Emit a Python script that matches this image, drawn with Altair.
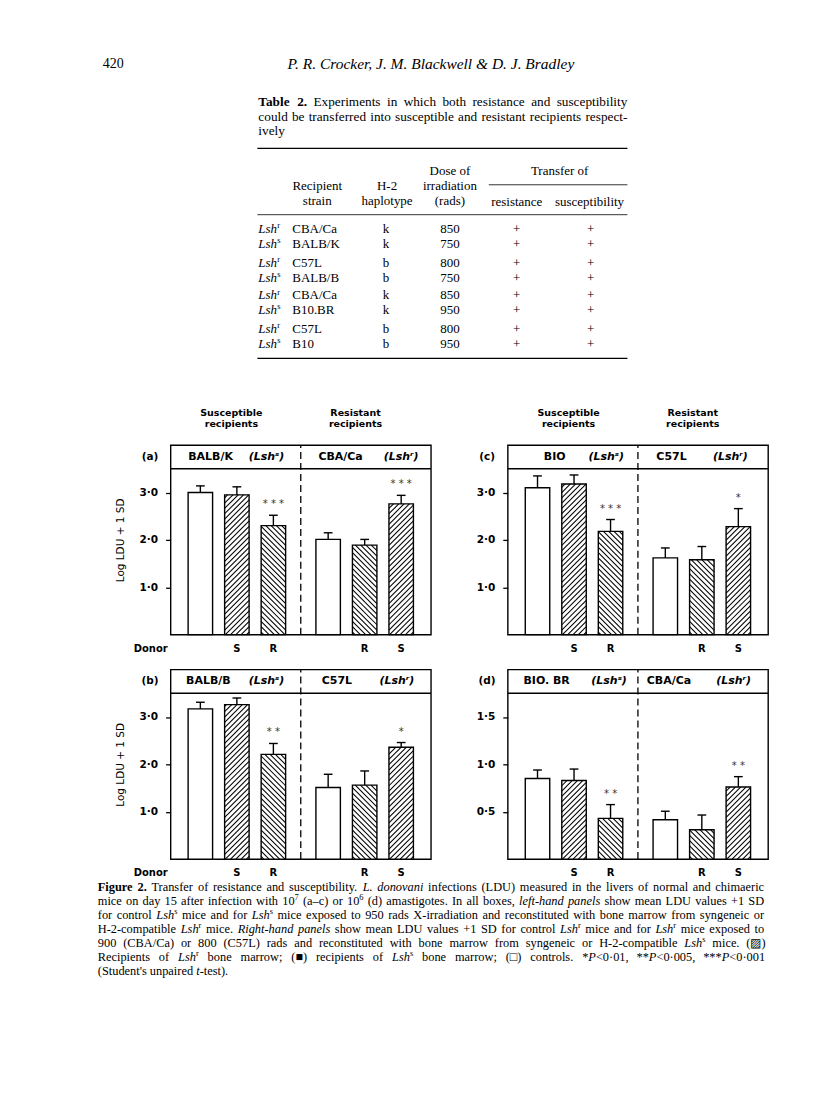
import altair as alt
import numpy as np
import pandas as pd

SERIF = "Liberation Serif"
SANS = "DejaVu Sans"

# ---------------- data ----------------
POS = [1, 2, 3, 4.5, 5.5, 6.5]
KIND = ["C", "S", "R", "C", "R", "S"]          # donor marrow (C = control)
DONOR = ["", "S", "R", "", "R", "S"]

a_mean = [3.00, 2.95, 2.30, 2.01, 1.89, 2.76]
a_sd = [0.14, 0.17, 0.22, 0.14, 0.12, 0.18]
a_sig = ["", "", "* * *", "", "", "* * *"]

b_mean = [3.17, 3.26, 2.21, 1.51, 1.56, 2.36]
b_sd = [0.14, 0.14, 0.23, 0.28, 0.30, 0.10]
b_sig = ["", "", "* *", "", "", "*"]

c_mean = [3.10, 3.18, 2.18, 1.62, 1.58, 2.28]
c_sd = [0.25, 0.19, 0.25, 0.21, 0.28, 0.38]
c_sig = ["", "", "* * *", "", "", "*"]

d_mean = [0.85, 0.83, 0.43, 0.415, 0.31, 0.76]
d_sd = [0.09, 0.12, 0.145, 0.09, 0.155, 0.11]
d_sig = ["", "", "* *", "", "", "* *"]

a_names = ["BALB/K", "CBA/Ca"]
b_names = ["BALB/B", "C57L"]
c_names = ["BIO", "C57L"]
d_names = ["BIO. BR", "CBA/Ca"]
LSH_LABELS = ["(Lshˢ)", "(Lshʳ)"]

TICKS_ABC = [1.0, 2.0, 3.0]
TICKS_D = [0.5, 1.0, 1.5]

tbl_lsh = ["r", "s", "r", "s", "r", "s", "r", "s"]
tbl_strain = ["CBA/Ca", "BALB/K", "C57L", "BALB/B", "CBA/Ca", "B10.BR", "C57L", "B10"]
tbl_h2 = ["k", "k", "b", "b", "k", "k", "b", "b"]
tbl_dose = ["850", "750", "800", "750", "850", "950", "800", "950"]
tbl_res = ["+"] * 8
tbl_sus = ["+"] * 8

# markup: ~ toggles italic, # toggles bold, ^x superscript character
table_title = [
    "#Table# #2.# Experiments in which both resistance and susceptibility",
    "could be transferred into susceptible and resistant recipients respect-",
    "ively",
]
caption_lines = [
    "#Figure# #2.# Transfer of resistance and susceptibility. ~L.~ ~donovani~ infections (LDU) measured in the livers of normal and chimaeric",
    "mice on day 15 after infection with 10^7 (a–c) or 10^6 (d) amastigotes. In all boxes, ~left-hand~ ~panels~ show mean LDU values +1 SD",
    "for control ~Lsh~^s mice and for ~Lsh~^s mice exposed to 950 rads X-irradiation and reconstituted with bone marrow from syngeneic or",
    "H-2-compatible ~Lsh~^r mice. ~Right-hand~ ~panels~ show mean LDU values +1 SD for control ~Lsh~^r mice and for ~Lsh~^r mice exposed to",
    "900 (CBA/Ca) or 800 (C57L) rads and reconstituted with bone marrow from syngeneic or H-2-compatible ~Lsh~^s mice. (▨)",
    "Recipients of ~Lsh~^r bone marrow; (■) recipients of ~Lsh~^s bone marrow; (□) controls. *~P~<0·01, **~P~<0·005, ***~P~<0·001",
    "(Student's unpaired ~t~-test).",
]

# ---------------- layout constants ----------------
W, H = 261, 190
XD = [0.185, 7.315]
BW = 0.67
CAP = 0.12
HDR_H = 397
CAP_TOP = 881
CAP_H = 100

# Times-compatible advance widths (per 1000 em) for laying out justified text
TNR = {' ': 250, "'": 180, '(': 333, ')': 333, '*': 500, '+': 564, ',': 250, '-': 333, '.': 250,
       '/': 278, ':': 278, ';': 278, '<': 564, '·': 250, '–': 500, '■': 604, '□': 604, '▨': 770,
       'A': 722, 'B': 667, 'C': 667, 'D': 722, 'E': 611, 'F': 556, 'G': 722, 'H': 722, 'I': 333,
       'J': 389, 'K': 722, 'L': 611, 'M': 889, 'N': 722, 'O': 722, 'P': 556, 'Q': 722, 'R': 667,
       'S': 556, 'T': 611, 'U': 722, 'V': 722, 'W': 944, 'X': 722, 'Y': 722, 'Z': 611,
       'a': 444, 'b': 500, 'c': 444, 'd': 500, 'e': 444, 'f': 333, 'g': 500, 'h': 500, 'i': 278,
       'j': 278, 'k': 500, 'l': 278, 'm': 778, 'n': 500, 'o': 500, 'p': 500, 'q': 500, 'r': 333,
       's': 389, 't': 278, 'u': 500, 'v': 500, 'w': 722, 'x': 500, 'y': 500, 'z': 444}
TNR_I = {'f': 278, 'r': 389, 'v': 444, 'w': 667, 'm': 722, 'k': 444, 'L': 556, 'P': 611, 'R': 611,
         'a': 500, 'y': 444, 'A': 611}
TNR_B = {'b': 556, 'd': 556, 'h': 556, 'n': 556, 'u': 556, 'm': 833, 'r': 444, 't': 333, 'F': 611,
         'T': 667, 'l': 278, 'a': 500, 'g': 500, 'e': 444, 'i': 278}


def seg_width(text, style, size):
    tot = 0
    for ch in text:
        w = TNR.get(ch, 500)
        if style == "i":
            w = TNR_I.get(ch, w)
        elif style == "b":
            w = TNR_B.get(ch, w)
        tot += w
    fs = size * 0.68 if style == "sup" else size
    return tot * fs / 1000


def parse_word(word):
    segs, buf = [], ""
    ital = bold = False
    i = 0

    def style():
        return "b" if bold else ("i" if ital else "n")

    while i < len(word):
        ch = word[i]
        if ch in "~#^":
            if buf:
                segs.append((buf, style()))
                buf = ""
            if ch == "~":
                ital = not ital
            elif ch == "#":
                bold = not bold
            else:
                segs.append((word[i + 1], "sup"))
                i += 1
        else:
            buf += ch
        i += 1
    if buf:
        segs.append((buf, style()))
    return segs


def base(df, xs, ys, yax=None):
    return alt.Chart(df).encode(
        x=alt.X("x:Q", scale=xs, axis=None),
        y=alt.Y("y:Q", scale=ys, axis=yax),
    )


def text_block(lines, x0, x1, y0, lh, size, xs, ys):
    rows = {"n": [], "i": [], "b": [], "sup": []}
    for li, line in enumerate(lines):
        words = [parse_word(w) for w in line.split(" ")]
        ww = [sum(seg_width(t, s, size) for t, s in w) for w in words]
        y = y0 + li * lh
        if li < len(lines) - 1 and len(words) > 1:
            gap = (x1 - x0 - sum(ww)) / (len(words) - 1)
        else:
            gap = seg_width(" ", "n", size)
        x = x0
        for w, wd in zip(words, ww):
            cx = x
            for t, s in w:
                rows[s].append((cx, y, t))
                cx += seg_width(t, s, size)
            x += wd + gap
    out = []
    for s, r in rows.items():
        if not r:
            continue
        kw = dict(font=SERIF, fontSize=size, align="left", baseline="alphabetic", color="black")
        if s == "i":
            kw["fontStyle"] = "italic"
        if s == "b":
            kw["fontWeight"] = "bold"
        if s == "sup":
            kw["fontSize"] = size * 0.68
            kw["dy"] = -size * 0.38
        df = pd.DataFrame(r, columns=["x", "y", "t"])
        out.append(base(df, xs, ys).mark_text(**kw).encode(text="t:N"))
    return out


def hatch(means, ymax):
    pxx = W / (XD[1] - XD[0])
    pxy = H / ymax
    rows = []
    s = 5.3
    for p, v, k in zip(POS, means, KIND):
        if k == "C":
            continue
        x0 = p - BW / 2
        w = BW * pxx
        h = v * pxy
        c = -w + s / 2
        while c < h:
            t1 = max(0.0, -c)
            t2 = min(w, h - c)
            if t2 - t1 > 0.4:
                if k == "S":
                    xa, xb = t1, t2
                else:
                    xa, xb = w - t1, w - t2
                rows.append(dict(x=x0 + xa / pxx, y=(t1 + c) / pxy,
                                 x2=x0 + xb / pxx, y2=(t2 + c) / pxy))
            c += s
    return pd.DataFrame(rows)


def panel(tag, means, sds, sigs, names, name_x, lsh_x, ymax, ticks, left, top):
    hdr = ymax * 0.875
    hmid = (ymax + hdr) / 2
    xs = alt.Scale(domain=XD, nice=False, zero=False)
    ys = alt.Scale(domain=[0, ymax], nice=False, zero=False)
    yax = alt.Axis(
        values=ticks,
        labelExpr="replace(format(datum.value, '.1f'), '.', '·')",
        domain=False, grid=False, ticks=True, tickSize=5, tickWidth=1.3,
        tickColor="black", labelColor="black", labelFont=SANS, labelFontSize=10.5,
        labelFontWeight="bold", labelPadding=8,
        title="Log LDU + 1 SD" if left else None,
        titleFont=SANS, titleFontSize=10.5, titleFontWeight="normal",
        titleColor="black", titlePadding=14,
    )
    tops = [m + s for m, s in zip(means, sds)]
    bars = pd.DataFrame({"x": [p - BW / 2 for p in POS], "x2": [p + BW / 2 for p in POS],
                         "y": [0.0] * 6, "y2": means})
    errs = pd.DataFrame({"x": POS, "y": means, "y2": tops})
    caps = pd.DataFrame({"x": [p - CAP for p in POS], "x2": [p + CAP for p in POS], "y": tops})
    stars = pd.DataFrame({"x": POS, "y": tops, "t": sigs})
    donors = pd.DataFrame({"x": POS, "y": [0.0] * 6, "t": DONOR})
    hdr_line = pd.DataFrame({"x": [XD[0]], "x2": [XD[1]], "y": [hdr]})
    divider = pd.DataFrame({"x": [3.75], "y": [0.0], "y2": [ymax]})
    nm = pd.DataFrame({"x": name_x, "y": [hmid, hmid], "t": names})
    ls = pd.DataFrame({"x": lsh_x, "y": [hmid, hmid], "t": LSH_LABELS})
    lt = pd.DataFrame({"x": [-0.38], "y": [hmid], "t": [f"({tag})"]})

    layers = [
        base(bars, xs, ys, yax).mark_rect(fill="white", stroke="black", strokeWidth=1.4)
        .encode(x2="x2:Q", y2="y2:Q"),
        base(hatch(means, ymax), xs, ys, yax).mark_rule(color="black", strokeWidth=1.05)
        .encode(x2="x2:Q", y2="y2:Q"),
        base(errs, xs, ys, yax).mark_rule(color="black", strokeWidth=1.4).encode(y2="y2:Q"),
        base(caps, xs, ys, yax).mark_rule(color="black", strokeWidth=1.4).encode(x2="x2:Q"),
        base(stars, xs, ys, yax).mark_text(font=SANS, fontSize=10, color="#333", dy=-11)
        .encode(text="t:N"),
        base(donors, xs, ys, yax).mark_text(font=SANS, fontSize=10, fontWeight="bold",
                                            color="black", dy=14).encode(text="t:N"),
        base(hdr_line, xs, ys, yax).mark_rule(color="black", strokeWidth=1.4).encode(x2="x2:Q"),
        base(divider, xs, ys, yax).mark_rule(color="black", strokeWidth=1.3, strokeDash=[7, 4])
        .encode(y2="y2:Q"),
        base(nm, xs, ys, yax).mark_text(font=SANS, fontSize=11, fontWeight="bold", color="black")
        .encode(text="t:N"),
        base(ls, xs, ys, yax).mark_text(font=SANS, fontSize=11, fontStyle="italic", fontWeight="bold",
                                        color="black").encode(text="t:N"),
        base(lt, xs, ys, yax).mark_text(font=SANS, fontSize=10.5, fontWeight="bold", color="black")
        .encode(text="t:N"),
    ]
    if left:
        dn = pd.DataFrame({"x": [-0.36], "y": [0.0], "t": ["Donor"]})
        layers.append(base(dn, xs, ys, yax).mark_text(font=SANS, fontSize=10, fontWeight="bold",
                                                       color="black", dy=14).encode(text="t:N"))
    if top:
        g1 = pd.DataFrame({"x": [1.85, 5.25], "y": [ymax, ymax], "t": ["Susceptible", "Resistant"]})
        g2 = pd.DataFrame({"x": [1.85, 5.25], "y": [ymax, ymax], "t": ["recipients", "recipients"]})
        layers.append(base(g1, xs, ys, yax).mark_text(font=SANS, fontSize=9.5, fontWeight="bold",
                                                       color="black", dy=-32).encode(text="t:N"))
        layers.append(base(g2, xs, ys, yax).mark_text(font=SANS, fontSize=9.5, fontWeight="bold",
                                                       color="black", dy=-21).encode(text="t:N"))
    return alt.layer(*layers).properties(
        width=W, height=H,
        view=alt.ViewBackground(stroke="black", strokeWidth=1.4, fill="white"),
    )


def spacer(w, h):
    return alt.Chart(pd.DataFrame({"x": [0]})).mark_point(opacity=0, size=1).encode(
        x=alt.value(w / 2), y=alt.value(h / 2)).properties(width=w, height=h)


# ---------------- header / table ----------------
hx = alt.Scale(domain=[8, 808], nice=False, zero=False)
hy = alt.Scale(domain=[8, 8 + HDR_H], nice=False, zero=False, reverse=True)


def ttext(rows, **kw):
    df = pd.DataFrame(rows, columns=["x", "y", "t"])
    return base(df, hx, hy).mark_text(color="black", baseline="middle", **kw).encode(text="t:N")


row_y = [227, 242, 261, 276, 294, 309, 328, 343]

head_layers = [
    ttext([(102, 62, "420")], font=SERIF, fontSize=14, align="left"),
    ttext([(431, 62, "P. R. Crocker, J. M. Blackwell & D. J. Bradley")], font=SERIF,
          fontSize=15.5, fontStyle="italic", align="center"),
    ttext([(317, 184, "Recipient"), (317, 199, "strain"), (387, 184, "H-2"), (387, 199, "haplotype"),
           (450, 169, "Dose of"), (450, 184, "irradiation"), (450, 199, "(rads)"),
           (560, 169, "Transfer of"), (517, 200, "resistance"), (590, 200, "susceptibility")],
          font=SERIF, fontSize=13, align="center"),
    ttext([(258, y, "Lsh") for y in row_y], font=SERIF, fontSize=13, fontStyle="italic", align="left"),
    ttext([(277, y - 4, s) for y, s in zip(row_y, tbl_lsh)], font=SERIF, fontSize=8.5, align="left"),
    ttext([(292, y, s) for y, s in zip(row_y, tbl_strain)], font=SERIF, fontSize=13, align="left"),
    ttext([(386, y, s) for y, s in zip(row_y, tbl_h2)] +
          [(450, y, s) for y, s in zip(row_y, tbl_dose)] +
          [(517, y, s) for y, s in zip(row_y, tbl_res)] +
          [(591, y, s) for y, s in zip(row_y, tbl_sus)], font=SERIF, fontSize=13, align="center"),
]
head_layers += text_block(table_title, 258, 628, 104.5, 14.3, 13.3, hx, hy)
rules = pd.DataFrame({"x": [257, 489, 257, 257], "x2": [628, 628, 628, 628],
                      "y": [146.5, 183, 213, 357], "w": [1.4, 0.8, 0.8, 1.4]})
for _, r in rules.iterrows():
    head_layers.append(base(pd.DataFrame([r]), hx, hy).mark_rule(color="black", strokeWidth=float(r.w))
                       .encode(x2="x2:Q"))
header = alt.layer(*head_layers).properties(width=800, height=HDR_H)

# ---------------- caption ----------------
cx = alt.Scale(domain=[8, 808], nice=False, zero=False)
cy = alt.Scale(domain=[CAP_TOP, CAP_TOP + CAP_H], nice=False, zero=False, reverse=True)
caption = alt.layer(*text_block(caption_lines, 97, 765, CAP_TOP + 11, 14, 12.4, cx, cy)).properties(
    width=800, height=CAP_H)

# ---------------- panels ----------------
pa = panel("a", a_mean, a_sd, a_sig, a_names, [1.28, 4.84], [2.81, 6.5], 4.0, TICKS_ABC, True, True)
pc = panel("c", c_mean, c_sd, c_sig, c_names, [1.47, 4.67], [2.88, 6.28], 4.0, TICKS_ABC, False, True)
pb = panel("b", b_mean, b_sd, b_sig, b_names, [1.22, 4.74], [2.81, 6.38], 4.0, TICKS_ABC, True, False)
pd_ = panel("d", d_mean, d_sd, d_sig, d_names, [1.25, 4.6], [2.96, 6.37], 2.0, TICKS_D, False, False)

row1 = alt.hconcat(spacer(104, 10), pa, spacer(40, 10), pc, spacing=0)
row2 = alt.hconcat(spacer(104, 10), pb, spacer(40, 10), pd_, spacing=0)

chart = alt.vconcat(header, row1, spacer(10, 11), row2, caption, spacing=0).properties(
    padding=0, background="white"
).configure_view(stroke="transparent")

chart.save("out.html", embed_options={"renderer": "svg", "actions": False})
